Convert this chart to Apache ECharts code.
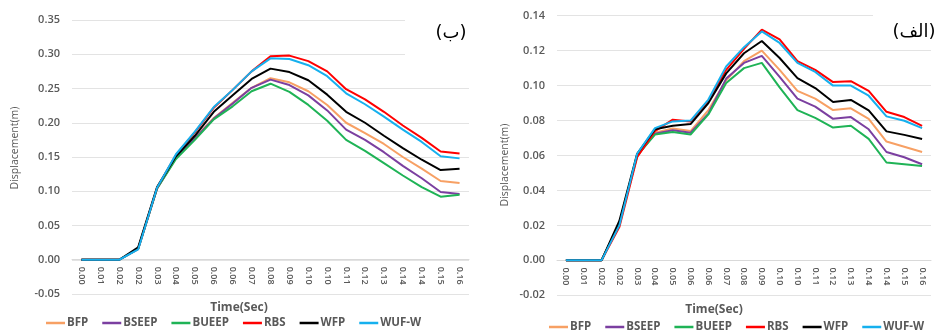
<!DOCTYPE html>
<html>
<head>
<meta charset="utf-8">
<script src="https://cdn.jsdelivr.net/npm/echarts@6/dist/echarts.min.js"></script>
<style>
html,body{margin:0;padding:0;background:#fff;}
#c{width:940px;height:331px;}
</style>
</head>
<body>
<div id="c"></div>
<script>
const categories = ['0.00','0.01','0.02','0.02','0.03','0.04','0.05','0.06','0.06','0.07','0.08','0.09','0.10','0.10','0.11','0.12','0.13','0.14','0.14','0.15','0.16'];
const seriesNames = ['BFP','BSEEP','BUEEP','RBS','WFP','WUF-W'];

// Left chart (ب)
const BFP_b   = [0,0,0,0.016,0.104,0.149,0.178,0.207,0.229,0.251,0.265,0.259,0.246,0.226,0.200,0.185,0.169,0.150,0.133,0.115,0.112];
const BSEEP_b = [0,0,0,0.016,0.104,0.149,0.177,0.206,0.228,0.251,0.263,0.255,0.240,0.218,0.190,0.175,0.157,0.137,0.119,0.099,0.096];
const BUEEP_b = [0,0,0,0.016,0.104,0.147,0.175,0.205,0.224,0.246,0.257,0.245,0.226,0.203,0.175,0.159,0.141,0.123,0.106,0.092,0.095];
const RBS_b   = [0,0,0,0.016,0.105,0.153,0.186,0.222,0.248,0.275,0.297,0.298,0.290,0.275,0.249,0.234,0.216,0.196,0.178,0.158,0.155];
const WFP_b   = [0,0,0,0.018,0.106,0.151,0.181,0.216,0.240,0.264,0.279,0.274,0.262,0.241,0.216,0.200,0.181,0.163,0.146,0.131,0.133];
const WUFW_b  = [0,0,0,0.015,0.105,0.154,0.187,0.223,0.248,0.275,0.294,0.293,0.284,0.268,0.243,0.227,0.209,0.190,0.172,0.151,0.148];

// Right chart (الف)
const BFP_a   = [0,0,0,0.021,0.060,0.073,0.0755,0.074,0.086,0.103,0.114,0.120,0.109,0.097,0.0925,0.086,0.087,0.081,0.068,0.065,0.062];
const BSEEP_a = [0,0,0,0.021,0.060,0.0725,0.0745,0.073,0.084,0.104,0.113,0.117,0.105,0.0925,0.088,0.081,0.082,0.075,0.062,0.059,0.055];
const BUEEP_a = [0,0,0,0.021,0.060,0.072,0.0735,0.072,0.0835,0.1015,0.110,0.113,0.099,0.086,0.0815,0.076,0.077,0.0695,0.056,0.055,0.054];
const RBS_a   = [0,0,0,0.019,0.059,0.074,0.0805,0.0795,0.091,0.109,0.121,0.132,0.1265,0.114,0.109,0.102,0.1025,0.097,0.085,0.082,0.077];
const WFP_a   = [0,0,0,0.0225,0.061,0.075,0.077,0.078,0.090,0.107,0.1185,0.1255,0.1158,0.1043,0.0986,0.0906,0.0918,0.0858,0.0738,0.0718,0.0694];
const WUFW_a  = [0,0,0,0.020,0.061,0.0757,0.0795,0.080,0.092,0.111,0.122,0.131,0.1244,0.113,0.1078,0.100,0.100,0.0942,0.0824,0.0799,0.0757];

const leftTicks = {min:-0.05, max:0.35, interval:0.05};
const rightTicks = {min:-0.02, max:0.14, interval:0.02};

const colors = ['#F7A064','#7B3FA0','#1FB356','#FF0000','#000000','#16B0EE'];
const leftData = [BFP_b,BSEEP_b,BUEEP_b,RBS_b,WFP_b,WUFW_b];
const rightData = [BFP_a,BSEEP_a,BUEEP_a,RBS_a,WFP_a,WUFW_a];

const grey = '#595959';
const font = '"Open Sans", sans-serif';

function xAxisCfg(gi, off){
  return {
    type:'category', gridIndex:gi, data:categories, boundaryGap:true,
    position:'bottom', offset:off,
    axisLine:{show:true, onZero:false, lineStyle:{color:'#d9d9d9'}},
    axisTick:{show:false},
    axisLabel:{rotate:-90, fontSize:9, fontWeight:600, color:grey, fontFamily:font, margin:7, interval:0}
  };
}
function yAxisCfg(gi, t){
  return {
    type:'value', gridIndex:gi, min:t.min, max:t.max, interval:t.interval,
    axisLine:{show:false}, axisTick:{show:false},
    splitLine:{lineStyle:{color:'#e3e3e3', width:1}},
    axisLabel:{fontSize:11, fontWeight:600, color:grey, fontFamily:font, margin:12,
      formatter:function(v){return v.toFixed(2);}}
  };
}

const series = [];
seriesNames.forEach(function(n,i){
  series.push({name:n, type:'line', xAxisIndex:0, yAxisIndex:0, data:leftData[i],
    showSymbol:false, symbol:'none', lineStyle:{width:2, color:colors[i]}, itemStyle:{color:colors[i]}, animation:false});
});
seriesNames.forEach(function(n,i){
  series.push({name:n, type:'line', xAxisIndex:1, yAxisIndex:1, data:rightData[i],
    showSymbol:false, symbol:'none', lineStyle:{width:2, color:colors[i]}, itemStyle:{color:colors[i]}, animation:false});
});

function legendCfg(left, top){
  return {
    data:seriesNames, left:left, top:top, icon:'rect', itemWidth:19, itemHeight:2.5, itemGap:14,
    textStyle:{fontSize:11.5, fontWeight:700, color:grey, fontFamily:font, padding:[0,0,0,-3]},
    selectedMode:false
  };
}

const option = {
  backgroundColor:'#ffffff',
  animation:false,
  color:colors,
  grid:[
    {left:72, top:20, width:397, height:274, containLabel:false},
    {left:557, top:15.7, width:374, height:279.6, containLabel:false}
  ],
  xAxis:[xAxisCfg(0,-34.3), xAxisCfg(1,-34.9)],
  yAxis:[yAxisCfg(0,leftTicks), yAxisCfg(1,rightTicks)],
  legend:[legendCfg(41,312), legendCfg(544,316)],
  series:series,
  graphic:[
    {type:'rect', shape:{x:405,y:10,width:66,height:52}, style:{fill:'#ffffff'}, z:50},
    {type:'rect', shape:{x:873,y:4,width:67,height:42}, style:{fill:'#ffffff'}, z:50},
    {type:'text', x:451, y:33, z:60, style:{text:'(ب)', fontSize:18, fontFamily:'"DejaVu Sans", sans-serif', fill:'#000', align:'center', verticalAlign:'middle'}},
    {type:'text', x:914, y:32, z:60, style:{text:'(الف)', fontSize:18, fontFamily:'"DejaVu Sans", sans-serif', fill:'#000', align:'center', verticalAlign:'middle'}},
    {type:'text', x:239, y:308, z:60, style:{text:'Time(Sec)', fontSize:12, fontWeight:700, fontFamily:font, fill:grey, align:'center', verticalAlign:'middle'}},
    {type:'text', x:714, y:310, z:60, style:{text:'Time(Sec)', fontSize:12, fontWeight:700, fontFamily:font, fill:grey, align:'center', verticalAlign:'middle'}},
    {type:'text', x:15, y:148, rotation:Math.PI/2, z:60, style:{text:'Displacement(m)', fontSize:10.5, fontFamily:font, fill:grey, align:'center', verticalAlign:'middle'}},
    {type:'text', x:505, y:165, rotation:Math.PI/2, z:60, style:{text:'Displacement(m)', fontSize:10.5, fontFamily:font, fill:grey, align:'center', verticalAlign:'middle'}}
  ]
};

const chart = echarts.init(document.getElementById('c'), null, {renderer:'canvas'});
chart.setOption(option);
</script>
</body>
</html>
